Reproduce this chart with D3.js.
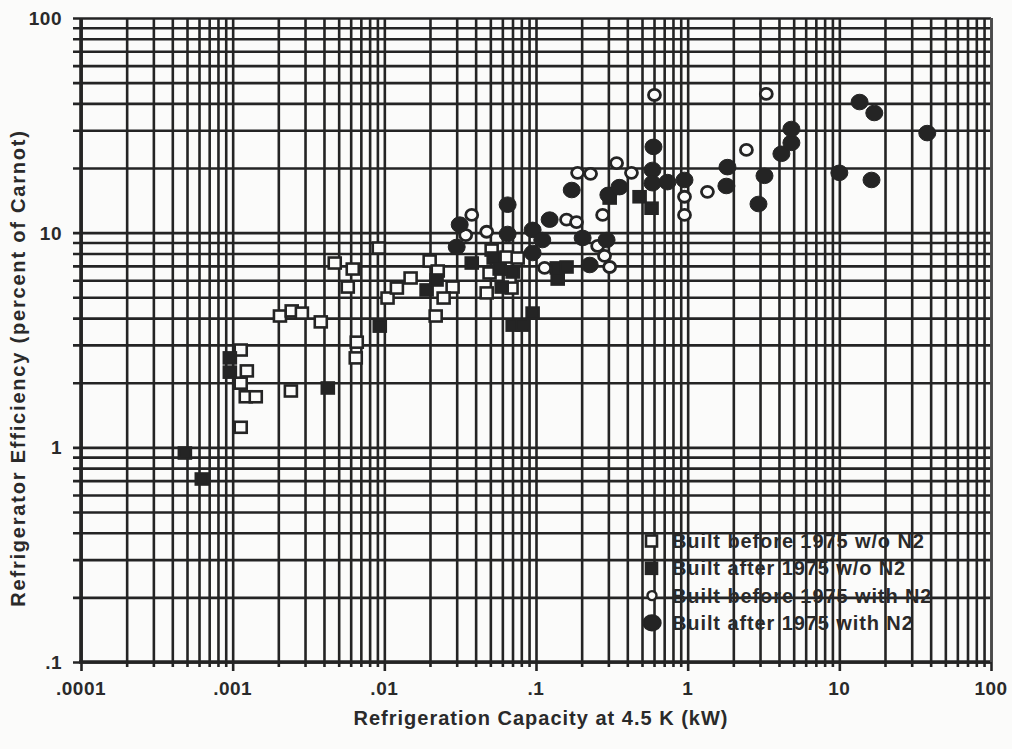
<!DOCTYPE html>
<html>
<head>
<meta charset="utf-8">
<script src="https://cdn.jsdelivr.net/npm/d3@7"></script>
<style>
  body { margin: 0; background: #fbfbfa; }
  text { font-family: "Liberation Sans", Arial, sans-serif; font-weight: bold; fill: #2a2a2a; }
</style>
</head>
<body>
<div id="chart-area"></div>
<script>
// decades and their printed labels
let xDecades = [0.0001, 0.001, 0.01, 0.1, 1, 10, 100];
let xTickLabels = [".0001", ".001", ".01", ".1", "1", "10", "100"];
let yDecades = [0.1, 1, 10, 100];
let yTickLabels = [".1", "1", "10", "100"];

// [capacity kW, efficiency % of Carnot]
let beforeNoN2 = [
    [0.00113, 2.84], [0.00124, 2.27], [0.00113, 1.99], [0.00122, 1.72], [0.00142, 1.72],
    [0.00113, 1.24], [0.00242, 1.83], [0.00205, 4.09], [0.00245, 4.32], [0.00286, 4.22],
    [0.00381, 3.84], [0.00471, 7.22], [0.00619, 6.77], [0.00574, 5.58], [0.00658, 3.09],
    [0.00648, 2.61], [0.00919, 8.48], [0.0105, 4.96], [0.0121, 5.52], [0.0149, 6.15],
    [0.0199, 7.38], [0.0225, 6.63], [0.0282, 5.58], [0.0246, 4.96], [0.0218, 4.09],
    [0.051, 8.3], [0.064, 7.7], [0.0757, 7.62], [0.0494, 6.49], [0.067, 6.02],
    [0.0473, 5.24], [0.069, 5.52]
];
let afterNoN2 = [
    [0.000484, 0.941], [0.000626, 0.712], [0.000958, 2.61], [0.000958, 2.24], [0.00424, 1.89],
    [0.00933, 3.67], [0.019, 5.41], [0.0221, 6.02], [0.0377, 7.22], [0.0526, 7.62],
    [0.0576, 6.77], [0.0594, 5.58], [0.0702, 6.56], [0.0702, 3.71], [0.0816, 3.71],
    [0.095, 4.22], [0.137, 6.85], [0.159, 6.92], [0.139, 6.08], [0.306, 14.5],
    [0.482, 14.7], [0.578, 13.0]
];
let beforeWithN2 = [
    [0.0377, 12.1], [0.0344, 9.75], [0.0473, 10.1], [0.159, 11.5], [0.185, 11.2],
    [0.114, 6.85], [0.188, 19.0], [0.229, 18.8], [0.275, 12.1], [0.255, 8.67],
    [0.283, 7.79], [0.306, 6.92], [0.34, 21.1], [0.426, 19.0], [0.604, 43.8],
    [0.953, 14.7], [0.953, 12.1], [1.35, 15.5], [2.44, 24.3], [3.3, 44.3]
];
let afterWithN2 = [
    [0.0314, 10.9], [0.03, 8.58], [0.065, 13.5], [0.065, 9.86], [0.095, 10.3],
    [0.11, 9.24], [0.095, 8.04], [0.123, 11.5], [0.172, 15.8], [0.203, 9.45],
    [0.292, 9.24], [0.226, 7.07], [0.3, 15.0], [0.355, 16.3], [0.595, 25.1],
    [0.586, 19.6], [0.586, 17.0], [0.736, 17.2], [0.953, 17.6], [1.83, 20.2],
    [1.8, 16.5], [2.93, 13.6], [3.21, 18.4], [4.15, 23.3], [4.83, 26.2],
    [4.83, 30.4], [10.0, 19.0], [13.6, 40.6], [17.0, 36.1], [16.3, 17.6],
    [38.0, 29.1]
];
let legendLabels = [
    "Built before 1975 w/o N2",
    "Built after 1975 w/o N2",
    "Built before 1975 with N2",
    "Built after 1975 with N2"
];

let margin = { left: 81, right: 21, top: 18, bottom: 87 };
let width = 1012 - margin.left - margin.right,
    height = 749 - margin.top - margin.bottom;
let ink = "#242424";
let paper = "#fbfbfa";

let svg = d3.select("#chart-area")
    .append("svg")
        .attr("width", 1012)
        .attr("height", 749);

let g = svg.append("g")
    .attr("transform", `translate(${margin.left}, ${margin.top})`);

let x = d3.scaleLog()
    .domain([0.0001, 100])
    .range([0, width]);

let y = d3.scaleLog()
    .domain([0.1, 100])
    .range([height, 0]);

// every 1..9 step inside each decade
let minor = (decs) => {
    let out = [];
    decs.slice(0, -1).forEach((d) => {
        for (let k = 1; k < 10; k++) out.push(d * k);
    });
    out.push(decs[decs.length - 1]);
    return out;
};
let xGrid = minor(xDecades);
let yGrid = minor(yDecades);

// grid, drawn as axes with long inner ticks and a short overhang outside
let xGridCall = d3.axisBottom(x)
    .tickValues(xGrid)
    .tickSizeInner(-height)
    .tickSizeOuter(0)
    .tickFormat("");
let xGridG = g.append("g")
    .attr("class", "x grid")
    .attr("transform", `translate(0, ${height})`)
    .call(xGridCall);
xGridG.selectAll(".tick line")
    .attr("y1", (d) => xDecades.includes(d) ? 9 : 5)
    .attr("stroke", ink)
    .attr("stroke-width", 2.6);
xGridG.select(".domain").remove();

let yGridCall = d3.axisLeft(y)
    .tickValues(yGrid)
    .tickSizeInner(-width)
    .tickSizeOuter(0)
    .tickFormat("");
let yGridG = g.append("g")
    .attr("class", "y grid")
    .call(yGridCall);
yGridG.selectAll(".tick line")
    .attr("x1", -8)
    .attr("stroke", ink)
    .attr("stroke-width", 2.6);
yGridG.select(".domain").remove();

// frame
g.append("line")
    .attr("x1", -2).attr("x2", width + 1)
    .attr("y1", height).attr("y2", height)
    .attr("stroke", ink).attr("stroke-width", 3.6);
g.append("line")
    .attr("x1", 0).attr("x2", 0)
    .attr("y1", 0).attr("y2", height)
    .attr("stroke", ink).attr("stroke-width", 3.6);
g.append("line")
    .attr("x1", width).attr("x2", width)
    .attr("y1", 0).attr("y2", height)
    .attr("stroke", "#555").attr("stroke-width", 1.6);

// tick labels
g.selectAll(".xlab")
    .data(xDecades)
    .enter()
    .append("text")
        .attr("class", "xlab")
        .attr("x", (d) => x(d))
        .attr("y", height + 33)
        .attr("text-anchor", "middle")
        .attr("font-size", "19px")
        .attr("letter-spacing", "0.5px")
        .text((d, i) => xTickLabels[i]);

g.selectAll(".ylab")
    .data(yDecades)
    .enter()
    .append("text")
        .attr("class", "ylab")
        .attr("x", -19)
        .attr("y", (d) => y(d) + 7)
        .attr("text-anchor", "end")
        .attr("font-size", "19px")
        .attr("letter-spacing", "0.5px")
        .text((d, i) => yTickLabels[i]);

// axis titles
g.append("text")
    .attr("x", 460)
    .attr("y", height + 63)
    .attr("text-anchor", "middle")
    .attr("font-size", "20px")
    .attr("letter-spacing", "1px")
    .text("Refrigeration Capacity at 4.5 K (kW)");

g.append("text")
    .attr("transform", "rotate(-90)")
    .attr("x", -350)
    .attr("y", -56)
    .attr("text-anchor", "middle")
    .attr("font-size", "20px")
    .attr("letter-spacing", "1.8px")
    .text("Refrigerator Efficiency (percent of Carnot)");

// markers
let drawSquares = (data, filled) => {
    g.selectAll(null)
        .data(data)
        .enter()
        .append("rect")
            .attr("x", (d) => x(d[0]) - 6)
            .attr("y", (d) => y(d[1]) - 5.5)
            .attr("width", 12)
            .attr("height", 11)
            .attr("fill", filled ? ink : paper)
            .attr("stroke", ink)
            .attr("stroke-width", 2.6);
};
let drawCircles = (data, filled) => {
    g.selectAll(null)
        .data(data)
        .enter()
        .append("ellipse")
            .attr("cx", (d) => x(d[0]))
            .attr("cy", (d) => y(d[1]))
            .attr("rx", filled ? 8.5 : 6)
            .attr("ry", filled ? 7.8 : 5.5)
            .attr("fill", filled ? ink : paper)
            .attr("stroke", ink)
            .attr("stroke-width", filled ? 1 : 2.8);
};
drawSquares(beforeNoN2, false);
drawSquares(afterNoN2, true);
drawCircles(beforeWithN2, false);
drawCircles(afterWithN2, true);

// legend (no box, grid shows through)
let legend = g.append("g")
    .attr("transform", `translate(${571}, ${523})`);
legendLabels.forEach((lab, i) => {
    let row = legend.append("g")
        .attr("transform", `translate(0, ${i * 27.3})`);
    if (i < 2) {
        row.append("rect")
            .attr("x", -6).attr("y", -5.5)
            .attr("width", 11).attr("height", 11)
            .attr("fill", i === 1 ? ink : paper)
            .attr("stroke", ink).attr("stroke-width", 2.6);
    } else {
        row.append("ellipse")
            .attr("rx", i === 3 ? 8.5 : 4.5)
            .attr("ry", i === 3 ? 7.5 : 4.5)
            .attr("fill", i === 3 ? ink : paper)
            .attr("stroke", ink).attr("stroke-width", 2.4);
    }
    row.append("text")
        .attr("x", 20)
        .attr("y", 7)
        .attr("font-size", "20px")
        .attr("letter-spacing", "0.9px")
        .text(lab);
});
</script>
</body>
</html>
